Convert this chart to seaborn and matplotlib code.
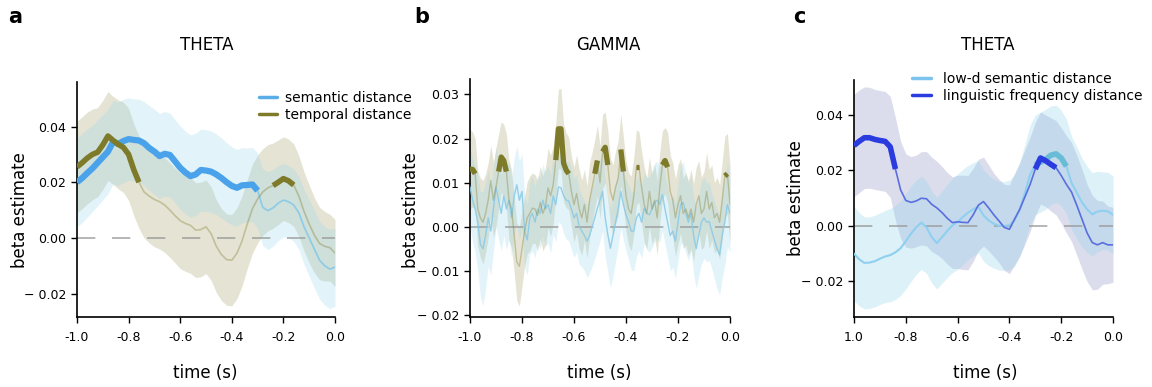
import numpy as np
import matplotlib
matplotlib.use("Agg")
import matplotlib.pyplot as plt
from matplotlib.lines import Line2D
from matplotlib.ticker import FuncFormatter
import seaborn as sns

# ---------------- data ----------------
t_a = np.round(np.arange(-1.0, 0.0001, 0.02), 2)
sem_a = [0.020, 0.0215, 0.0233, 0.025, 0.027, 0.029, 0.031, 0.0345, 0.0338, 0.0348,
         0.0355, 0.0352, 0.0350, 0.034, 0.0323, 0.031, 0.0294, 0.0302, 0.0298, 0.0275,
         0.0252, 0.0235, 0.0222, 0.0228, 0.0244, 0.0242, 0.0238, 0.0228, 0.0215, 0.0200,
         0.0187, 0.0180, 0.0189, 0.0190, 0.0192, 0.0170, 0.0110, 0.0098, 0.0108, 0.0125,
         0.0136, 0.0130, 0.0118, 0.0090, 0.0040, 0.0000, -0.0040, -0.0080, -0.0100, -0.0112,
         -0.0105]
sem_a_err = [0.016, 0.016, 0.0158, 0.0155, 0.0155, 0.0153, 0.0152, 0.015, 0.015, 0.015,
             0.0148, 0.0147, 0.0148, 0.015, 0.0152, 0.0153, 0.0153, 0.0152, 0.015, 0.015,
             0.015, 0.0148, 0.0148, 0.0148, 0.0147, 0.0147, 0.0146, 0.0145, 0.0144, 0.0142,
             0.014, 0.0138, 0.0135, 0.0133, 0.0133, 0.0135, 0.0138, 0.014, 0.0138, 0.0135,
             0.0132, 0.013, 0.013, 0.0132, 0.0135, 0.0138, 0.014, 0.014, 0.0142, 0.0142,
             0.014]
tmp_a = [0.0255, 0.027, 0.0287, 0.030, 0.0308, 0.0334, 0.0366, 0.0350, 0.0336, 0.0325,
         0.0300, 0.0245, 0.0200, 0.0165, 0.0150, 0.0138, 0.0130, 0.0118, 0.0100, 0.0080,
         0.0062, 0.0052, 0.0045, 0.0028, 0.0030, 0.0040, 0.0015, -0.0030, -0.0060, -0.0078,
         -0.0080, -0.0055, -0.0010, 0.0050, 0.0105, 0.0140, 0.0165, 0.0180, 0.0188, 0.0200,
         0.0213, 0.0205, 0.0190, 0.0150, 0.0095, 0.0050, 0.0010, -0.0020, -0.0030, -0.0035,
         -0.0054]
tmp_a_err = [0.0165, 0.0165, 0.0165, 0.0163, 0.016, 0.016, 0.016, 0.0158, 0.016, 0.0162,
             0.0165, 0.0165, 0.0165, 0.0165, 0.0168, 0.017, 0.017, 0.017, 0.017, 0.017,
             0.0172, 0.0172, 0.0172, 0.017, 0.017, 0.0168, 0.0168, 0.0166, 0.0165, 0.0164,
             0.0164, 0.0163, 0.0162, 0.016, 0.016, 0.0158, 0.0156, 0.0155, 0.0153, 0.0152,
             0.015, 0.015, 0.0148, 0.0145, 0.0142, 0.014, 0.0135, 0.013, 0.0125, 0.012,
             0.012]
sem_a_sig = [(-1.00, -0.30)]
tmp_a_sig = [(-1.00, -0.76), (-0.24, -0.16)]

t_b = np.round(np.arange(-1.0, 0.0001, 0.01), 2)
tmp_b = [0.013, 0.013, 0.012, 0.004, 0.002, 0.001, 0.003, 0.006, 0.0105, 0.006,
         0.009, 0.0125, 0.0158, 0.015, 0.0125, 0.006, 0.004, -0.002, -0.008, -0.009,
         -0.005, -0.001, 0.002, 0.003, 0.0042, 0.004, 0.0025, 0.0055, 0.003, 0.0045,
         0.0088, 0.007, 0.0095, 0.0151, 0.0222, 0.0222, 0.0144, 0.0128, 0.0120, 0.008,
         0.005, 0.0075, 0.004, 0.002, 0.005, 0.001, 0.006, 0.009, 0.012, 0.015,
         0.010, 0.017, 0.018, 0.014, 0.008, 0.006, 0.009, 0.011, 0.0175, 0.0125,
         0.007, 0.004, 0.003, 0.007, 0.0135, 0.0135, 0.009, 0.005, 0.003, 0.008,
         0.004, 0.006, 0.002, 0.009, 0.014, 0.015, 0.0135, 0.008, 0.006, 0.002,
         0.005, 0.007, 0.003, 0.004, 0.002, 0.004, 0.001, 0.005, 0.007, 0.003,
         0.004, 0.008, 0.004, 0.0055, 0.002, 0.003, 0.001, 0.006, 0.0115, 0.012,
         0.005]
tmp_b_err = [0.009, 0.0085, 0.008, 0.0085, 0.009, 0.0095, 0.009, 0.0085, 0.008, 0.0085,
             0.009, 0.0085, 0.008, 0.0082, 0.0085, 0.009, 0.0088, 0.0085, 0.0088, 0.009,
             0.0085, 0.008, 0.0082, 0.0085, 0.008, 0.0078, 0.008, 0.0082, 0.0085, 0.0088,
             0.009, 0.0092, 0.0088, 0.0085, 0.009, 0.0092, 0.0088, 0.0085, 0.0082, 0.008,
             0.0085, 0.0088, 0.009, 0.0085, 0.008, 0.0082, 0.0085, 0.008, 0.0078, 0.008,
             0.0082, 0.0085, 0.008, 0.0078, 0.0075, 0.008, 0.0082, 0.0085, 0.008, 0.0078,
             0.008, 0.0082, 0.0085, 0.0088, 0.0085, 0.008, 0.0082, 0.0085, 0.008, 0.0078,
             0.008, 0.0082, 0.0085, 0.008, 0.0078, 0.0075, 0.008, 0.0082, 0.0085, 0.0088,
             0.009, 0.0085, 0.008, 0.0082, 0.0085, 0.009, 0.0088, 0.0085, 0.008, 0.0082,
             0.0085, 0.0088, 0.009, 0.0085, 0.008, 0.0082, 0.0085, 0.0088, 0.009, 0.0092,
             0.009]
sem_b = [0.009, 0.006, 0.004, 0.001, -0.004, -0.005, -0.002, 0.002, -0.001, 0.004,
         0.009, 0.006, 0.003, 0.007, 0.004, 0.006, 0.002, 0.007, 0.0095, 0.006,
         0.008, -0.001, -0.003, 0.002, 0.003, 0.001, 0.004, 0.003, 0.006, 0.004,
         0.005, 0.003, 0.007, 0.005, 0.009, 0.0088, 0.007, 0.006, 0.0058, 0.004,
         0.002, 0.003, 0.000, -0.001, -0.002, -0.0033, -0.002, 0.000, 0.002, 0.0042,
         0.006, 0.008, 0.002, -0.0018, -0.0049, -0.002, 0.001, 0.004, 0.008, 0.005,
         0.0027, 0.001, -0.001, -0.001, 0.002, 0.003, 0.001, 0.0042, 0.003, 0.0027,
         0.004, 0.0055, 0.006, 0.005, 0.0073, 0.004, 0.001, -0.002, -0.001, -0.0033,
         0.001, 0.005, 0.0055, 0.003, 0.001, 0.003, -0.002, -0.005, -0.002, 0.001,
         0.002, 0.001, 0.0012, -0.001, -0.003, -0.005, -0.0064, -0.002, 0.001, 0.005,
         0.003]
sem_b_err = [0.009, 0.0095, 0.010, 0.011, 0.012, 0.013, 0.012, 0.011, 0.010, 0.0095,
             0.009, 0.0088, 0.0085, 0.009, 0.0092, 0.009, 0.0088, 0.0085, 0.0088, 0.009,
             0.0085, 0.0082, 0.008, 0.0082, 0.0085, 0.008, 0.0078, 0.008, 0.0082, 0.0085,
             0.0088, 0.009, 0.0088, 0.0085, 0.008, 0.0082, 0.0085, 0.0088, 0.009, 0.0092,
             0.009, 0.0088, 0.0085, 0.0082, 0.008, 0.0082, 0.0085, 0.009, 0.0092, 0.0095,
             0.0092, 0.009, 0.0088, 0.0085, 0.009, 0.0092, 0.0088, 0.0085, 0.0082, 0.008,
             0.0082, 0.0085, 0.0088, 0.009, 0.0088, 0.0085, 0.0082, 0.008, 0.0082, 0.0085,
             0.0088, 0.009, 0.0088, 0.0085, 0.0082, 0.008, 0.0078, 0.008, 0.0082, 0.0085,
             0.0088, 0.009, 0.0092, 0.009, 0.0088, 0.0085, 0.0088, 0.009, 0.0092, 0.0095,
             0.0092, 0.009, 0.0088, 0.0085, 0.0088, 0.009, 0.0092, 0.0095, 0.0098, 0.0095,
             0.009]
tmp_b_sig = [(-1.00, -0.98), (-0.89, -0.86), (-0.67, -0.62), (-0.52, -0.51),
             (-0.49, -0.47), (-0.42, -0.41), (-0.36, -0.35), (-0.26, -0.24), (-0.02, -0.01)]

t_c = np.round(np.arange(-1.0, 0.0001, 0.02), 2)
lf_c = [0.0290, 0.0305, 0.0318, 0.0318, 0.0312, 0.0308, 0.0305, 0.0285, 0.0205, 0.0130,
        0.0092, 0.0085, 0.0090, 0.0100, 0.0098, 0.0078, 0.0065, 0.0048, 0.0028, 0.0012,
        0.0015, 0.0013, 0.0012, 0.0040, 0.0075, 0.0088, 0.0065, 0.0040, 0.0018, -0.0005,
        -0.0012, 0.0025, 0.0060, 0.0105, 0.0150, 0.0205, 0.0245, 0.0235, 0.0222, 0.0210,
        0.0182, 0.0150, 0.0122, 0.0075, 0.0025, -0.0025, -0.0060, -0.0068, -0.0060, -0.0068,
        -0.0068]
lf_c_err = [0.0185, 0.0185, 0.0183, 0.0182, 0.018, 0.018, 0.018, 0.0182, 0.0185, 0.0175,
            0.0168, 0.0165, 0.0165, 0.0168, 0.017, 0.017, 0.0168, 0.0166, 0.0165, 0.0165,
            0.0168, 0.017, 0.017, 0.0168, 0.0165, 0.016, 0.0155, 0.015, 0.015, 0.0155,
            0.016, 0.0165, 0.0168, 0.017, 0.017, 0.0168, 0.0166, 0.0165, 0.0168, 0.017,
            0.0172, 0.0175, 0.0178, 0.018, 0.018, 0.0175, 0.017, 0.016, 0.015, 0.014,
            0.0135]
ld_c = [-0.0100, -0.0120, -0.0133, -0.0132, -0.0127, -0.0118, -0.0110, -0.0105, -0.0095, -0.0080,
        -0.0055, -0.0028, -0.0005, 0.0012, -0.0005, -0.0040, -0.0062, -0.0040, -0.0018, 0.0002,
        0.0015, 0.0032, 0.0048, 0.0060, 0.0070, 0.0038, 0.0020, 0.0008, 0.0001, 0.0000,
        0.0003, 0.0020, 0.0060, 0.0120, 0.0185, 0.0220, 0.0230, 0.0240, 0.0255, 0.0260,
        0.0245, 0.0215, 0.0155, 0.0120, 0.0085, 0.0060, 0.0042, 0.0052, 0.0055, 0.0053,
        0.0040]
ld_c_err = [0.017, 0.0168, 0.0166, 0.0165, 0.0165, 0.0165, 0.0166, 0.0168, 0.017, 0.017,
            0.0172, 0.0172, 0.017, 0.0168, 0.0166, 0.0165, 0.0165, 0.0166, 0.0168, 0.017,
            0.0172, 0.0172, 0.017, 0.0168, 0.0166, 0.0165, 0.0163, 0.016, 0.016, 0.016,
            0.0162, 0.0165, 0.017, 0.0175, 0.0178, 0.018, 0.018, 0.018, 0.0178, 0.0175,
            0.0172, 0.017, 0.0168, 0.0165, 0.016, 0.0155, 0.015, 0.0145, 0.014, 0.014,
            0.014]
lf_c_sig = [(-1.00, -0.84), (-0.30, -0.22)]
ld_c_sig = [(-0.30, -0.18)]

x_ticks = [-1.0, -0.8, -0.6, -0.4, -0.2, 0.0]
x_labels_ab = ["-1.0", "-0.8", "-0.6", "-0.4", "-0.2", "0.0"]
x_labels_c = ["1.0", "-0.8", "-0.6", "-0.4", "-0.2", "0.0"]
y_ticks_a = [-0.02, 0.0, 0.02, 0.04]
y_ticks_b = [-0.02, -0.01, 0.0, 0.01, 0.02, 0.03]
y_ticks_c = [-0.02, 0.0, 0.02, 0.04]

# ---------------- style ----------------
sns.set_style("ticks")
plt.rcParams["font.family"] = ["DejaVu Sans"]
plt.rcParams["text.color"] = "black"
plt.rcParams["axes.labelcolor"] = "black"
plt.rcParams["xtick.color"] = "black"
plt.rcParams["ytick.color"] = "black"

BLUE = "#4aa3ea"
BLUE_THIN = "#8ccbe8"
BLUE_BAND = "#8fd3ea"
OLIVE = "#7d7a2a"
DARK = "#2a3be0"
DARK_THIN = "#5a6ee0"
TEAL = "#68bcd6"
LD_THIN = "#8fcff0"
LAV = "#8c91c3"

W, H = 1152, 387
fig = plt.figure(figsize=(W / 100, H / 100), dpi=100)


def add_ax(l, r, top, bot):
    return fig.add_axes([l / W, 1 - bot / H, (r - l) / W, (bot - top) / H])


def yfmt(v, pos):
    if v < -1e-9:
        return "\u2212 " + f"{abs(v):.2f}"
    return f"{abs(v):.2f}"


def band(ax, t, m, e, color, alpha):
    m = np.asarray(m)
    e = np.asarray(e)
    ax.fill_between(t, m - e, m + e, color=color, alpha=alpha, lw=0)


def line(ax, t, m, color, lw, alpha=1.0, z=3):
    sns.lineplot(x=t, y=np.asarray(m), ax=ax, color=color, lw=lw, alpha=alpha,
                 legend=False, estimator=None, sort=False, zorder=z)


def thick(ax, t, m, windows, color, lw, z=4):
    m = np.asarray(m)
    for a, b in windows:
        sel = (t >= a - 1e-9) & (t <= b + 1e-9)
        sns.lineplot(x=t[sel], y=m[sel], ax=ax, color=color, lw=lw, legend=False,
                     estimator=None, sort=False, zorder=z, solid_capstyle="butt")


def style(ax, ylim, yticks, xlabels):
    ax.set_xlim(-1.0, 0.0)
    ax.set_ylim(*ylim)
    ax.axhline(0, color="#9a9a9a", lw=1.2, dashes=(11, 10), alpha=0.85, zorder=2)
    ax.set_xticks(x_ticks)
    ax.set_xticklabels(xlabels)
    ax.set_yticks(yticks)
    ax.yaxis.set_major_formatter(FuncFormatter(yfmt))
    ax.tick_params(axis="both", labelsize=9, length=4, width=1, color="black",
                   labelcolor="black")
    ax.tick_params(axis="x", pad=6)
    ax.tick_params(axis="y", pad=4)
    ax.set_xlabel("")
    ax.set_ylabel("")
    sns.despine(ax=ax)
    for s in ("left", "bottom"):
        ax.spines[s].set_linewidth(1.2)
        ax.spines[s].set_color("black")


# ---------------- panel a ----------------
ax_a = add_ax(77, 335, 82, 317)
band(ax_a, t_a, tmp_a, tmp_a_err, OLIVE, 0.2)
band(ax_a, t_a, sem_a, sem_a_err, BLUE_BAND, 0.25)
line(ax_a, t_a, sem_a, BLUE_THIN, 1.2)
line(ax_a, t_a, tmp_a, OLIVE, 1.2, alpha=0.35)
thick(ax_a, t_a, sem_a, sem_a_sig, BLUE, 4.5)
thick(ax_a, t_a, tmp_a, tmp_a_sig, OLIVE, 4.0, z=5)
style(ax_a, (-0.0284, 0.056), y_ticks_a, x_labels_ab)
handles = [Line2D([], [], color="#5aaee8", lw=2.5), Line2D([], [], color=OLIVE, lw=2.5)]
ax_a.legend(handles, ["semantic distance", "temporal distance"], loc="upper left",
            bbox_to_anchor=(259 / W, 1 - 91 / H), bbox_transform=fig.transFigure,
            frameon=False, fontsize=10, handlelength=1.3, handletextpad=0.55,
            labelspacing=0.2, borderpad=0, borderaxespad=0)

# ---------------- panel b ----------------
ax_b = add_ax(470, 730, 79, 317)
band(ax_b, t_b, tmp_b, tmp_b_err, OLIVE, 0.2)
band(ax_b, t_b, sem_b, sem_b_err, BLUE_BAND, 0.25)
line(ax_b, t_b, sem_b, BLUE_THIN, 1.0, alpha=0.9)
line(ax_b, t_b, tmp_b, OLIVE, 1.0, alpha=0.35)
thick(ax_b, t_b, tmp_b, tmp_b_sig, OLIVE, 3.8, z=5)
style(ax_b, (-0.0205, 0.0335), y_ticks_b, x_labels_ab)

# ---------------- panel c ----------------
ax_c = add_ax(854, 1113, 80, 317)
band(ax_c, t_c, lf_c, lf_c_err, LAV, 0.3)
band(ax_c, t_c, ld_c, ld_c_err, BLUE_BAND, 0.3)
line(ax_c, t_c, ld_c, LD_THIN, 1.5)
line(ax_c, t_c, lf_c, DARK_THIN, 1.2)
thick(ax_c, t_c, ld_c, ld_c_sig, TEAL, 4.0)
thick(ax_c, t_c, lf_c, lf_c_sig, DARK, 4.0, z=5)
style(ax_c, (-0.0328, 0.0526), y_ticks_c, x_labels_c)
handles = [Line2D([], [], color="#7cc4ee", lw=2.5), Line2D([], [], color=DARK, lw=2.5)]
ax_c.legend(handles, ["low-d semantic distance", "linguistic frequency distance"],
            loc="upper left", bbox_to_anchor=(912 / W, 1 - 72 / H),
            bbox_transform=fig.transFigure, frameon=False, fontsize=10,
            handlelength=1.35, handletextpad=0.85, labelspacing=0.2, borderpad=0,
            borderaxespad=0)

# ---------------- texts ----------------
for x, s in [(15, "a"), (422, "b"), (799, "c")]:
    fig.text(x / W, 1 - 17 / H, s, fontsize=15, fontweight="bold", ha="center",
             va="center", color="black")
for x, s in [(207, "THETA"), (608, "GAMMA"), (988, "THETA")]:
    fig.text(x / W, 1 - 45 / H, s, fontsize=12, ha="center", va="center", color="black")
for x in (205, 599, 985):
    fig.text(x / W, 1 - 373 / H, "time (s)", fontsize=12, ha="center", va="center",
             color="black")
for x, y in [(20, 210), (411, 210), (796, 198)]:
    fig.text(x / W, 1 - y / H, "beta estimate", fontsize=12, rotation=90,
             ha="center", va="center", color="black")

fig.savefig("out.png", dpi=100)
